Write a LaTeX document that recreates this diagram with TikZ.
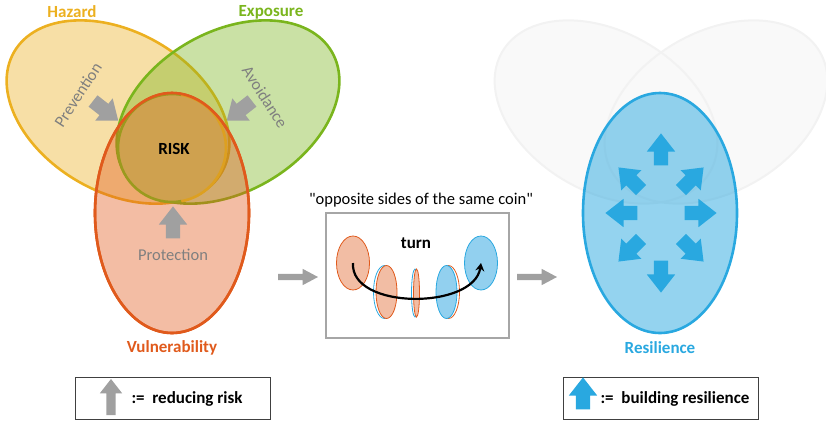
\documentclass[tikz,border=0pt]{standalone}
\usepackage{fontspec}
\setmainfont{Carlito}[Ligatures=TeXOff]
\usetikzlibrary{shapes.arrows,shapes.geometric,arrows.meta,calc}
\definecolor{hazardcol}{RGB}{236,176,32}
\definecolor{exposurecol}{RGB}{122,181,29}
\definecolor{vulncol}{RGB}{224,90,28}
\definecolor{riskfill}{RGB}{207,161,79}
\definecolor{riskolive}{RGB}{155,154,30}
\definecolor{riskgold}{RGB}{221,160,32}
\definecolor{resilcol}{RGB}{41,168,224}
\definecolor{greyarrow}{RGB}{160,160,160}
\definecolor{greytext}{RGB}{127,127,127}
\definecolor{fadedfill}{RGB}{249,249,249}
\definecolor{fadedline}{RGB}{242,242,242}
\definecolor{coinorange}{RGB}{242,189,164}
\definecolor{coinblue}{RGB}{146,208,239}
\tikzset{
    x=1pt, y=-1pt,
    set/.style={line width=2.6pt, fill opacity=0.4},
    faded/.style={line width=2pt, draw=fadedline},
    title/.style={font=\fontsize{17}{20}\selectfont\bfseries},
    hint/.style={text=greytext},
    blockarrow/.style={single arrow, draw=none, fill=greyarrow, text height=0pt, text depth=0pt,
        inner xsep=0pt, inner ysep=7pt, single arrow head extend=7pt,
        single arrow tip angle=76, minimum height=32pt},
    thinarrow/.style={blockarrow, inner ysep=3pt, single arrow head extend=5pt,
        single arrow tip angle=56, minimum height=40pt},
    coin/.style={ellipse, inner sep=0pt, line width=0.8pt},
    keybox/.style={draw=black!75, line width=0.8pt, minimum width=195pt, minimum height=42pt},
}

\begin{document}
\begin{tikzpicture}[font=\fontsize{16.5}{19}\selectfont]
    \useasboundingbox (0,0) rectangle (826,421);

    % left: the three sets
    \draw[set, hazardcol, fill=hazardcol] (118,112) ellipse [x radius=120, y radius=80, rotate=-30];
    \draw[set, exposurecol, fill=exposurecol] (228,112) ellipse [x radius=120, y radius=80, rotate=30];
    \draw[set, vulncol, fill=vulncol] (172,213) ellipse [x radius=77, y radius=120];
    \fill[riskfill] (172,148) circle [radius=54];
    \draw[riskolive, line width=2.6pt] (172,148) ++(80:54) arc [start angle=80, end angle=280, radius=54];
    \draw[riskgold, line width=2.6pt] (172,148) ++(-80:54) arc [start angle=-80, end angle=80, radius=54];
    \draw[vulncol, line width=2.6pt] (172,213) ellipse [x radius=77, y radius=120];

    \node[title, text=hazardcol] (hazard) at (72,12) {Hazard};
    \node[title, text=exposurecol] (exposure) at (271,12) {Exposure};
    \node[title, text=vulncol] (vuln) at (172,348) {Vulnerability};
    \node[title] (risk) at (174,149) {RISK};
    \node[hint, rotate=57] (prevention) at (78,95) {Prevention};
    \node[hint, rotate=-57] (avoidance) at (265,97) {Avoidance};
    \node[hint] (protection) at (173,255) {Protection};
    \node[blockarrow, rotate=-38] (prevarrow) at (102,108) {};
    \node[blockarrow, rotate=-142] (avoidarrow) at (243,108) {};
    \node[blockarrow, rotate=90] (protarrow) at (173,227) {};

    % middle: the coin
    \node[thinarrow] (toturn) at (295,277) {};
    \node (coinlabel) at (421,200) {"opposite sides of the same coin"};
    \draw[draw=black!35, line width=2pt] (326,213) rectangle (509,338);
    \node[title] (turn) at (416,243) {turn};
    \node[coin, fill=coinorange, draw=vulncol, minimum width=33pt, minimum height=54pt] (coinA) at (353,263) {};
    \node[coin, draw=resilcol, minimum width=22pt, minimum height=53pt] (coinBback) at (384.5,292) {};
    \node[coin, fill=coinorange, draw=vulncol, minimum width=21pt, minimum height=53pt] (coinB) at (386.5,292) {};
    \node[coin, draw=resilcol, minimum width=7pt, minimum height=48pt] (coinCback) at (415,293) {};
    \node[coin, fill=coinorange, draw=vulncol, minimum width=6pt, minimum height=48pt] (coinC) at (416.5,293) {};
    \node[coin, draw=vulncol, minimum width=22pt, minimum height=53pt] (coinDback) at (448.5,292) {};
    \node[coin, fill=coinblue, draw=resilcol, minimum width=21pt, minimum height=53pt] (coinD) at (446.5,292) {};
    \node[coin, fill=coinblue, draw=resilcol, minimum width=33pt, minimum height=54pt] (coinE) at (481,263) {};
    \draw[line width=2.2pt, -{Stealth[length=8pt, width=9pt]}] (coinA.center) .. controls (350,310) and (474,310) .. (coinE.center);
    \node[thinarrow] (toresil) at (534,277) {};

    % right: resilience
    \fill[fadedfill] (606,112) ellipse [x radius=120, y radius=80, rotate=-30];
    \fill[fadedfill] (716,112) ellipse [x radius=120, y radius=80, rotate=30];
    \draw[faded] (606,112) ellipse [x radius=120, y radius=80, rotate=-30];
    \draw[faded] (716,112) ellipse [x radius=120, y radius=80, rotate=30];
    \draw[set, resilcol, fill=resilcol, fill opacity=0.5] (660,213) ellipse [x radius=77, y radius=120];
    \coordinate (resil) at (661,213);
    \foreach \dx/\dy/\ang [count=\i] in {0/-59/90, 0/59/-90, -35/0/180, 35/0/0,
        -28/-31/135, 28/-31/45, -28/34/-135, 28/34/-45}
        \node[blockarrow, fill=resilcol, rotate=\ang] (grow\i) at ($(resil)+(\dx,\dy)$) {};
    \node[title, text=resilcol] (resilience) at (660,348) {Resilience};

    % keys
    \node[keybox] (riskkey) at (172.5,398) {};
    \node[blockarrow, rotate=90, inner ysep=4.5pt, single arrow head extend=6.5pt, minimum height=36pt] (riskkeyarrow) at (111,400) {};
    \node[title, anchor=west] (riskkeytext) at (128,399) {:=~~reducing risk};
    \node[keybox] (resilkey) at (660.5,398) {};
    \node[blockarrow, fill=resilcol, rotate=90] (resilkeyarrow) at (583,398) {};
    \node[title, anchor=west] (resilkeytext) at (597,399) {:=~~building resilience};
\end{tikzpicture}
\end{document}
